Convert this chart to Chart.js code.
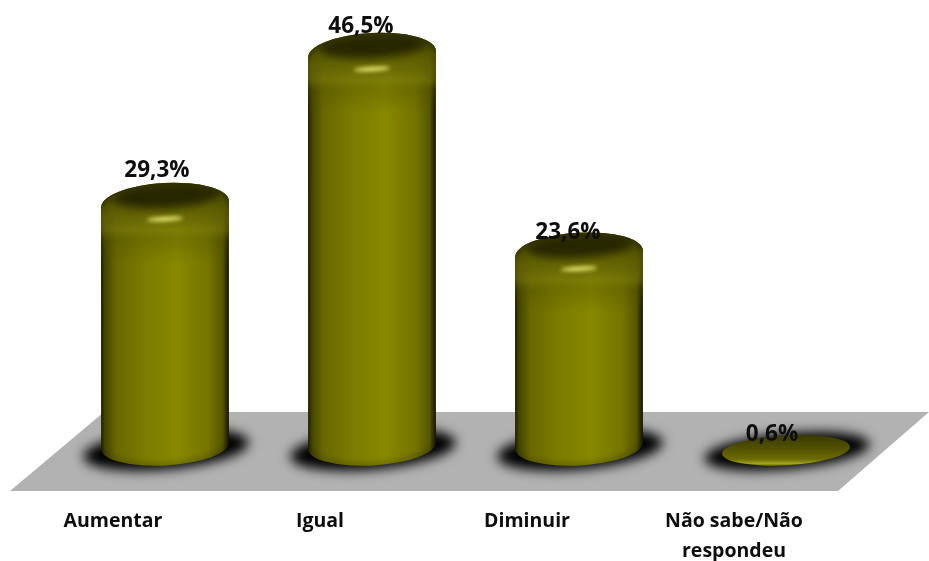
<!DOCTYPE html>
<html><head><meta charset="utf-8">
<style>html,body{margin:0;padding:0;background:#fff;overflow:hidden}#w{width:929px;height:561px;position:relative}</style>
<script src="https://cdn.jsdelivr.net/npm/chart.js@4"></script>
</head><body><div id="w"><canvas id="c" width="929" height="561"></canvas></div>
<script>
const categories = ["Aumentar", "Igual", "Diminuir", ["Não sabe/Não", "respondeu"]];
const seriesName = "Percentagem";
const values = [29.3, 46.5, 23.6, 0.6];
const valueLabels = ["29,3%", "46,5%", "23,6%", "0,6%"];

const labelShift = [[-8, -33], [-11, -27], [-11, -21], [-14, -20]];
const TILT = -0.055;

function bodyGradient(ctx, x, w) {
  const g = ctx.createLinearGradient(x - w / 2, 0, x + w / 2, 0);
  g.addColorStop(0, "#1c1c00");
  g.addColorStop(0.03, "#444400");
  g.addColorStop(0.12, "#686800");
  g.addColorStop(0.35, "#7c7c00");
  g.addColorStop(0.6, "#888800");
  g.addColorStop(0.84, "#747400");
  g.addColorStop(0.95, "#565600");
  g.addColorStop(0.985, "#262600");
  g.addColorStop(1, "#101000");
  return g;
}
function shadow(ctx, x, y, rx, ry) {
  ctx.save();
  ctx.filter = "blur(6px)";
  ctx.fillStyle = "#000";
  ctx.beginPath();
  ctx.ellipse(x, y, rx, ry, -0.09, 0, Math.PI * 2);
  ctx.fill();
  ctx.restore();
}
function cylinder(ctx, x, top, base, w) {
  const r = w / 2, ry = 20;
  ctx.save();
  ctx.beginPath();
  ctx.ellipse(x, base, r, ry, TILT, 0, Math.PI);
  ctx.lineTo(x - r, top + 2);
  ctx.ellipse(x, top, r, ry + 1, TILT, Math.PI, Math.PI * 2);
  ctx.closePath();
  ctx.fillStyle = bodyGradient(ctx, x, w);
  ctx.fill();
  ctx.clip();
  // soft rounded shoulder under the lid
  const v = ctx.createLinearGradient(0, top - ry, 0, top + 60);
  v.addColorStop(0, "rgba(70,70,0,0.9)");
  v.addColorStop(0.45, "rgba(100,100,6,0.75)");
  v.addColorStop(0.58, "rgba(116,116,12,0.55)");
  v.addColorStop(0.72, "rgba(80,80,0,0.3)");
  v.addColorStop(1, "rgba(80,80,0,0)");
  ctx.fillStyle = v;
  ctx.fillRect(x - r, top - ry - 2, w, 84);
  // dark edges around the shoulder
  ctx.save();
  ctx.filter = "blur(3px)";
  ctx.strokeStyle = "rgba(20,20,0,0.65)";
  ctx.lineWidth = 4;
  ctx.beginPath();
  ctx.ellipse(x, top, r, ry + 1, TILT, Math.PI, Math.PI * 2);
  ctx.stroke();
  ctx.restore();
  // lid
  ctx.save();
  ctx.filter = "blur(4px)";
  ctx.fillStyle = "#262600";
  ctx.beginPath();
  ctx.ellipse(x + 1, top - 8, r - 10, 12, TILT, 0, Math.PI * 2);
  ctx.fill();
  ctx.restore();
  // highlight
  ctx.save();
  ctx.filter = "blur(2px)";
  ctx.fillStyle = "#f4f47a";
  ctx.beginPath();
  ctx.ellipse(x, top + 15, 18, 2, TILT, 0, Math.PI * 2);
  ctx.fill();
  ctx.restore();
  // dark foot
  ctx.save();
  ctx.filter = "blur(3px)";
  ctx.strokeStyle = "rgba(30,30,0,0.55)";
  ctx.lineWidth = 3;
  ctx.beginPath();
  ctx.ellipse(x, base, r, ry, TILT, 0, Math.PI);
  ctx.stroke();
  ctx.restore();
  ctx.restore();
}
function disc(ctx, x, y, w) {
  const r = w / 2, ry = 15;
  ctx.save();
  ctx.beginPath();
  ctx.ellipse(x, y, r, ry, TILT, 0, Math.PI * 2);
  const g = ctx.createLinearGradient(0, y - ry, 0, y + ry);
  g.addColorStop(0, "#3a3a00");
  g.addColorStop(0.45, "#525200");
  g.addColorStop(0.8, "#6c6c00");
  g.addColorStop(0.94, "#a0a020");
  g.addColorStop(1, "#7c7c00");
  ctx.fillStyle = g;
  ctx.fill();
  ctx.restore();
}

const scene = {
  id: "scene",
  beforeDatasetsDraw(chart) {
    const ctx = chart.ctx;
    ctx.save();
    ctx.fillStyle = "#b2b2b2";
    ctx.beginPath();
    ctx.moveTo(10, 491); ctx.lineTo(104, 412); ctx.lineTo(929, 412); ctx.lineTo(838, 491);
    ctx.closePath();
    ctx.fill();
    ctx.restore();
  },
  afterDatasetsDraw(chart) {
    const ctx = chart.ctx, meta = chart.getDatasetMeta(0), zero = chart.scales.y.getPixelForValue(0);
    const base = zero - 14;
    meta.data.forEach((bar, i) => {
      const x = bar.x, w = bar.width, flat = bar.y > base;
      shadow(ctx, x + 1, flat ? bar.y - 3 : base + 4, w / 2 + 19, flat ? 18 : 20);
      if (flat) disc(ctx, x, bar.y - 4, w);
      else cylinder(ctx, x, bar.y, base, w);
    });
    ctx.save();
    ctx.fillStyle = "#0d0d0d";
    ctx.textAlign = "center";
    ctx.textBaseline = "middle";
    ctx.font = "bold 22.5px 'Open Sans'";
    meta.data.forEach((bar, i) => {
      ctx.fillText(valueLabels[i], bar.x + labelShift[i][0], bar.y + labelShift[i][1]);
    });
    ctx.restore();
  }
};

new Chart(document.getElementById("c"), {
  type: "bar",
  data: { labels: categories, datasets: [{ label: seriesName, data: values, backgroundColor: "rgba(0,0,0,0)", barPercentage: 128 / 207, categoryPercentage: 1 }] },
  plugins: [scene],
  options: {
    responsive: false, animation: false, devicePixelRatio: 1,
    layout: { padding: { left: 61.5, right: 39.5, top: 6, bottom: 0 } },
    plugins: { legend: { display: false }, tooltip: { enabled: false } },
    scales: {
      y: { display: false, min: 0, max: 52 },
      x: {
        grid: { display: false, drawTicks: false }, border: { display: false },
        afterFit(s) { s.height = 101.5; },
        ticks: { color: "#0d0d0d", font: { family: "Open Sans", weight: "bold", size: 19.5, lineHeight: 1.54 }, padding: 47, labelOffset: -52, maxRotation: 0, minRotation: 0, autoSkip: false }
      }
    }
  }
});
</script></body></html>
